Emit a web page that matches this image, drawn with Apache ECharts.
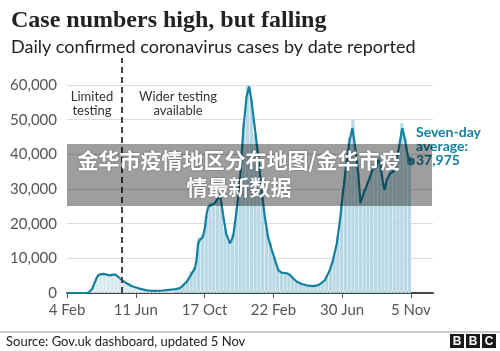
<!DOCTYPE html>
<html>
<head>
<meta charset="utf-8">
<script src="https://cdn.jsdelivr.net/npm/echarts@6/dist/echarts.min.js"></script>
<style>html,body{margin:0;padding:0;background:#fff}#chart{width:500px;height:351px}</style>
</head>
<body>
<div id="chart"></div>
<script>
// x values are days since 4 Feb 2020
var tickLabels = ['4 Feb', '11 Jun', '17 Oct', '22 Feb', '30 Jun', '5 Nov'];
var tickStep = 128;
var testingDay = 102;

// seven-day average
var days = [0, 35, 40, 43, 47, 51, 55, 58, 62, 68, 74, 80, 86, 90, 95, 102, 111, 120, 133, 148,
  160, 175, 190, 202, 210, 216, 223, 232, 238, 241, 244, 247, 253, 257, 260, 263, 269, 275, 281, 285,
  290, 296, 303, 309, 315, 322, 328, 334, 339, 343, 350, 356, 362, 368, 374, 381, 387, 393, 399, 409,
  415, 421, 427, 437, 449, 458, 466, 471, 480, 489, 495, 502, 508, 514, 520, 526, 531, 536, 542, 546,
  551, 557, 564, 570, 573, 576, 579, 583, 588, 591, 595, 601, 607, 610, 614, 618, 622, 624, 629, 632,
  635, 640];
var avg = [0, 0, 100, 300, 1200, 2800, 4300, 5100, 5400, 5500, 5300, 5100, 5300, 5300, 4700, 3750, 2800, 2000, 1350, 750,
  600, 650, 900, 1100, 1400, 2200, 3300, 5600, 7100, 9500, 14300, 15300, 16200, 19100, 23000, 24900, 25400, 25900, 27300, 28300,
  23000, 17200, 14300, 16200, 23000, 32600, 47000, 56600, 59600, 55700, 47000, 39300, 29700, 22000, 16200, 12400, 9500, 6600, 5900, 5700,
  5200, 4200, 3300, 2600, 2100, 2000, 2200, 2600, 3750, 6600, 9500, 14300, 21000, 29700, 37400, 44100, 47600, 42200, 34500, 25900,
  28300, 30700, 33600, 36000, 35500, 36400, 38400, 37400, 31600, 29700, 32600, 34500, 35000, 36000, 39300, 42200, 46100, 47500, 44100, 41300,
  38900, 37975];

// daily cases, one bar per week
var barStep = 7;
var daily = [0, 0, 0, 0, 20, 60, 350, 2300, 4500, 5600, 5400, 5000, 5600, 5100, 4300, 3400, 2800, 2100, 1700, 1300,
  1000, 800, 650, 600, 650, 700, 800, 900, 1050, 1200, 1500, 2500, 3800, 6200, 7500, 16000, 17000, 22500, 26000, 25000,
  27500, 26000, 18500, 15000, 17000, 24500, 34000, 49000, 60000, 56000, 46000, 37000, 27500, 19000, 14500, 10500, 7200, 6100, 5800, 5500,
  4500, 3400, 2800, 2400, 2200, 2000, 2100, 2500, 3300, 4800, 7200, 11000, 16500, 26000, 35500, 45000, 50000, 38500, 26500, 30000,
  32500, 35500, 36500, 39500, 32000, 33000, 35500, 37000, 41000, 49000, 44500, 39500];

var yTicks = [0, 10000, 20000, 30000, 40000, 50000, 60000];

var tickDays = tickLabels.map(function (l, i) { return i * tickStep; });
var lineData = days.map(function (d, i) { return [d, avg[i]]; });
var barData = daily.map(function (v, i) { return [i * barStep, v]; });
var last = lineData[lineData.length - 1];

var chart = echarts.init(document.getElementById('chart'));
var option = {
  animation: false,
  backgroundColor: '#fff',
  title: [
    {
      text: 'Case numbers high, but falling', left: 6, top: 4,
      textStyle: {fontFamily: 'Liberation Serif', fontWeight: 'bold', fontSize: 24, color: '#222'}
    },
    {
      text: 'Daily confirmed coronavirus cases by date reported', left: 6, top: 33,
      textStyle: {fontFamily: 'Lato', fontWeight: 'normal', fontSize: 18, color: '#222'}
    }
  ],
  grid: {left: 67, right: 67, top: 58, bottom: 58, outerBoundsMode: 'none'},
  xAxis: {
    type: 'value', min: 0, max: 681, interval: tickStep,
    axisLine: {lineStyle: {color: '#444', width: 2}},
    axisTick: {customValues: tickDays, length: 5, lineStyle: {color: '#555'}},
    axisLabel: {
      customValues: tickDays, margin: 10, color: '#555', fontSize: 15, fontFamily: 'Lato',
      formatter: function (v) { return tickLabels[Math.round(v / tickStep)]; }
    },
    splitLine: {show: false}
  },
  yAxis: {
    type: 'value', min: 0, max: 67800, interval: 10000,
    axisLine: {show: false}, axisTick: {show: false},
    axisLabel: {
      customValues: yTicks, margin: 10, color: '#555', fontSize: 15, fontFamily: 'Lato',
      formatter: function (v) { return v.toLocaleString('en-GB'); }
    },
    splitLine: {showMaxLine: false, lineStyle: {color: '#dcdcdc'}}
  },
  series: [
    {
      type: 'bar', data: barData, barWidth: 3.3, silent: true,
      itemStyle: {
        color: function (p) { return p.value[0] < 200 ? '#d6e9ef' : '#b8d8e3'; }
      }
    },
    {
      type: 'line', data: lineData, showSymbol: false, silent: true,
      lineStyle: {color: '#1380a1', width: 2.2}, z: 3,
      markLine: {
        silent: true, symbol: 'none', label: {show: false},
        lineStyle: {color: '#444', type: [6, 4], width: 2},
        data: [{xAxis: testingDay}]
      }
    },
    {
      type: 'scatter', data: [last], symbolSize: 8, z: 4, silent: true,
      itemStyle: {color: '#1380a1'}
    }
  ],
  graphic: [
    {
      type: 'text', x: 92, y: 104, silent: true,
      style: {text: 'Limited\ntesting', align: 'center', verticalAlign: 'middle', fill: '#333',
        fontSize: 13, fontFamily: 'Lato', lineHeight: 14}
    },
    {
      type: 'text', x: 178, y: 104, silent: true,
      style: {text: 'Wider testing\navailable', align: 'center', verticalAlign: 'middle', fill: '#333',
        fontSize: 13, fontFamily: 'Lato', lineHeight: 14}
    },
    {
      type: 'text', x: 416, y: 146, silent: true,
      style: {text: 'Seven-day\naverage:\n' + last[1].toLocaleString('en-GB'), align: 'left', verticalAlign: 'middle',
        fill: '#1380a1', fontSize: 14, fontWeight: 'bold', fontFamily: 'Lato', lineHeight: 14}
    },
    {
      type: 'rect', z: 100, silent: true,
      shape: {x: 67, y: 144, width: 365, height: 62},
      style: {fill: 'rgba(0,0,0,0.38)'}
    },
    {
      type: 'text', z: 101, x: 239, y: 174, silent: true,
      style: {text: '金华市疫情地区分布地图/金华市疫\n情最新数据', align: 'center', verticalAlign: 'middle',
        fill: '#fff', fontSize: 21, fontWeight: 'bold', fontFamily: 'Noto Sans CJK SC', lineHeight: 27,
        textShadowColor: 'rgba(0,0,0,0.4)', textShadowBlur: 2}
    },
    {
      type: 'line', silent: true,
      shape: {x1: 0, y1: 332, x2: 500, y2: 332},
      style: {stroke: '#999', lineWidth: 1}
    },
    {
      type: 'text', x: 6, y: 342, silent: true,
      style: {text: 'Source: Gov.uk dashboard, updated 5 Nov', verticalAlign: 'middle', fill: '#222',
        fontSize: 13, fontFamily: 'Lato'}
    },
    {type: 'rect', silent: true, shape: {x: 450, y: 334, width: 14, height: 14}, style: {fill: '#1a1a1a'}},
    {type: 'rect', silent: true, shape: {x: 466, y: 334, width: 14, height: 14}, style: {fill: '#1a1a1a'}},
    {type: 'rect', silent: true, shape: {x: 482, y: 334, width: 14, height: 14}, style: {fill: '#1a1a1a'}},
    {type: 'text', silent: true, x: 457, y: 341.5, style: {text: 'B', align: 'center', verticalAlign: 'middle', fill: '#fff', fontSize: 12, fontWeight: 'bold', fontFamily: 'Liberation Sans'}},
    {type: 'text', silent: true, x: 473, y: 341.5, style: {text: 'B', align: 'center', verticalAlign: 'middle', fill: '#fff', fontSize: 12, fontWeight: 'bold', fontFamily: 'Liberation Sans'}},
    {type: 'text', silent: true, x: 489, y: 341.5, style: {text: 'C', align: 'center', verticalAlign: 'middle', fill: '#fff', fontSize: 12, fontWeight: 'bold', fontFamily: 'Liberation Sans'}}
  ]
};
chart.setOption(option);
</script>
</body>
</html>
